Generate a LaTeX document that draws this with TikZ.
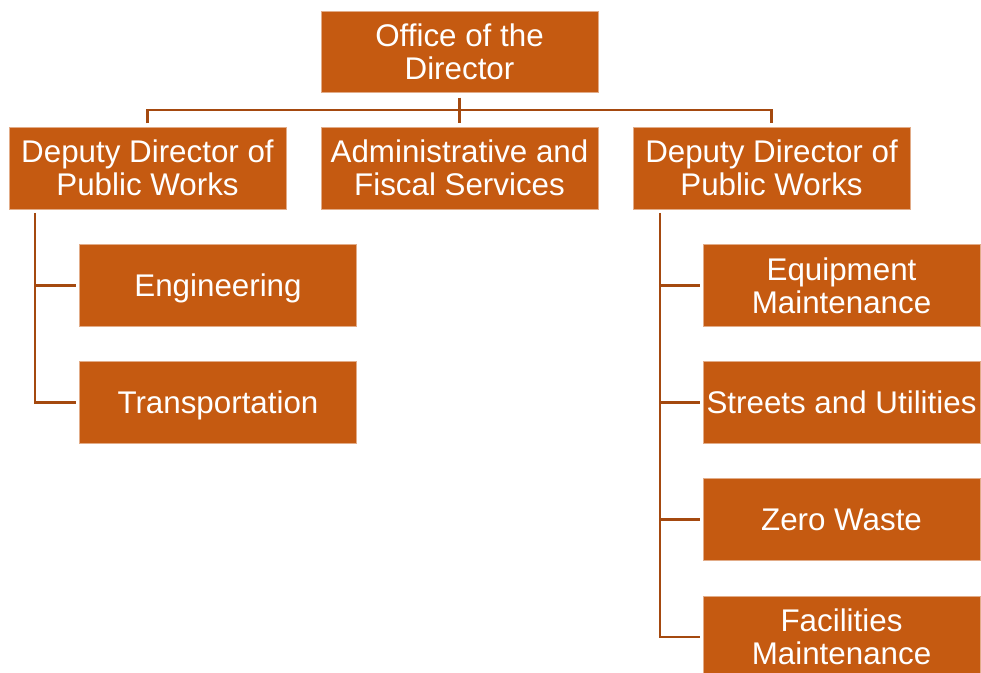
\documentclass[tikz,border=0pt]{standalone}
\usepackage{fontspec}
\setmainfont{Liberation Sans}
\usetikzlibrary{calc}
\definecolor{dpwfill}{HTML}{C55A11}
\definecolor{dpwline}{HTML}{A4490F}
\colorlet{dpwedge}{dpwfill!50!white}
\begin{document}
\begin{tikzpicture}[
    x=0.75pt, y=-0.75pt,
    unitbox/.style={rectangle, fill=dpwfill, draw=dpwedge, line width=0.6pt,
      minimum width=207.75pt, minimum height=61.5pt, inner sep=0pt,
      text=white, align=center, font=\fontsize{23.5}{24.75}\selectfont},
    oneline/.style={text depth=0pt},
    link/.style={draw=dpwline, line width=1.8pt},
    ]
  \useasboundingbox (0,0) rectangle (981,673);
  \begin{scope}
  \clip (0,0) rectangle (981,673);
  % top and second row
  \node[unitbox, minimum height=60.75pt] (director) at (459.5, 51.5) {Office of the\\Director};
  \node[unitbox] (deputyL) at (147.5, 168) {Deputy Director of\\Public Works};
  \node[unitbox] (admin) at (459.5, 168) {Administrative and\\Fiscal Services};
  \node[unitbox] (deputyR) at (771.5, 168) {Deputy Director of\\Public Works};

  % left branch
  \node[unitbox, oneline] (eng) at (218, 285.5) {Engineering};
  \node[unitbox, oneline] (trans) at (218, 402.5) {Transportation};

  % right branch
  \node[unitbox] (equip) at (841.5, 285.5) {Equipment\\Maintenance};
  \node[unitbox, oneline] (streets) at (841.5, 402.5) {Streets and Utilities};
  \node[unitbox, oneline] (zero) at (841.5, 519.5) {Zero Waste};
  \node[unitbox] (facil) at (841.5, 637) {Facilities\\Maintenance};
  \end{scope}

  \coordinate (busM) at (459.5, 110);
  \coordinate (spineL) at (35, 213);
  \coordinate (spineR) at (660, 213);

  \draw[link] ([yshift=-4pt]director.south) -- ([yshift=2.5pt]admin.north);
  \draw[link] ([yshift=2.5pt]deputyL.north) |- (busM) -| ([yshift=2.5pt]deputyR.north);

  \draw[link] (spineL) |- ([xshift=-2pt]trans.west);
  \draw[link] (spineL |- eng.west) -- ([xshift=-2pt]eng.west);

  \draw[link] (spineR) |- ([xshift=-2pt]facil.west);
  \draw[link] (spineR |- equip.west) -- ([xshift=-2pt]equip.west);
  \draw[link] (spineR |- streets.west) -- ([xshift=-2pt]streets.west);
  \draw[link] (spineR |- zero.west) -- ([xshift=-2pt]zero.west);
\end{tikzpicture}
\end{document}
